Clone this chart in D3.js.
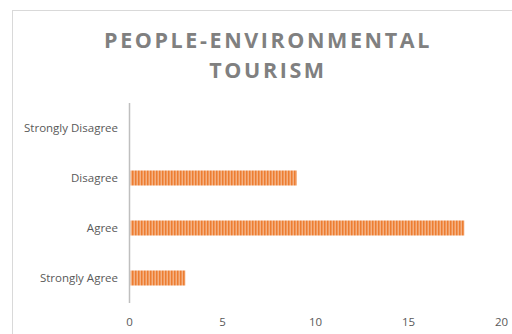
<!DOCTYPE html>
<html><head><meta charset="utf-8">
<script src="https://cdn.jsdelivr.net/npm/d3@7"></script>
<style>body{margin:0;background:#fff;} text{font-family:"Open Sans","Liberation Sans",sans-serif;}</style>
</head><body>
<script>
const categories = ["Strongly Disagree","Disagree","Agree","Strongly Agree"];
const values = [0, 9, 18, 3];
const xTicks = [0, 5, 10, 15, 20];
const titleLines = ["PEOPLE-ENVIRONMENTAL","TOURISM"];

const W = 512, H = 334;
const svg = d3.select("body").append("svg").attr("width", W).attr("height", H);

const defs = svg.append("defs");
const pat = defs.append("pattern").attr("id","stripes").attr("patternUnits","userSpaceOnUse")
  .attr("width",3).attr("height",10);
pat.append("rect").attr("width",3).attr("height",10).attr("fill","#F4B183");
pat.append("rect").attr("width",1.5).attr("height",10).attr("fill","#ED7D31");

// chart border
svg.append("rect").attr("x",12.5).attr("y",10.5).attr("width",W+20).attr("height",H+20)
  .attr("fill","none").attr("stroke","#D9D9D9").attr("stroke-width",1);

// title
const title = svg.append("text").attr("text-anchor","middle").attr("fill","#808080")
  .attr("font-weight","bold").attr("font-size",21.5).style("letter-spacing","2.6px");
titleLines.forEach((t,i)=>{
  title.append("tspan").attr("x",268).attr("y",48 + i*30).text(t);
});

const x = d3.scaleLinear().domain([0,20]).range([129.5, 501.5]);
const y = d3.scaleBand().domain(categories).range([103, 303]).paddingInner(0.7).paddingOuter(0.35);

// bars
svg.selectAll("rect.bar").data(categories).enter().append("rect").attr("class","bar")
  .attr("x", x(0)+1)
  .attr("y", d=>y(d))
  .attr("width", (d,i)=>Math.max(0, x(values[i]) - x(0) - 1))
  .attr("height", y.bandwidth())
  .attr("fill","url(#stripes)");

// y axis line
svg.append("line").attr("x1",x(0)).attr("x2",x(0)).attr("y1",103).attr("y2",303)
  .attr("stroke","#BFBFBF").attr("stroke-width",1.5);

// category labels
svg.selectAll("text.cat").data(categories).enter().append("text").attr("class","cat")
  .attr("x",118).attr("y",d=>y(d)+y.bandwidth()/2).attr("dy","0.35em")
  .attr("text-anchor","end").attr("fill","#595959").attr("font-size",11.5)
  .text(d=>d);

// x tick labels
svg.selectAll("text.tick").data(xTicks).enter().append("text").attr("class","tick")
  .attr("x",d=>x(d)).attr("y",326).attr("text-anchor","middle")
  .attr("fill","#595959").attr("font-size",11.5).text(d=>d);
</script>
</body></html>
